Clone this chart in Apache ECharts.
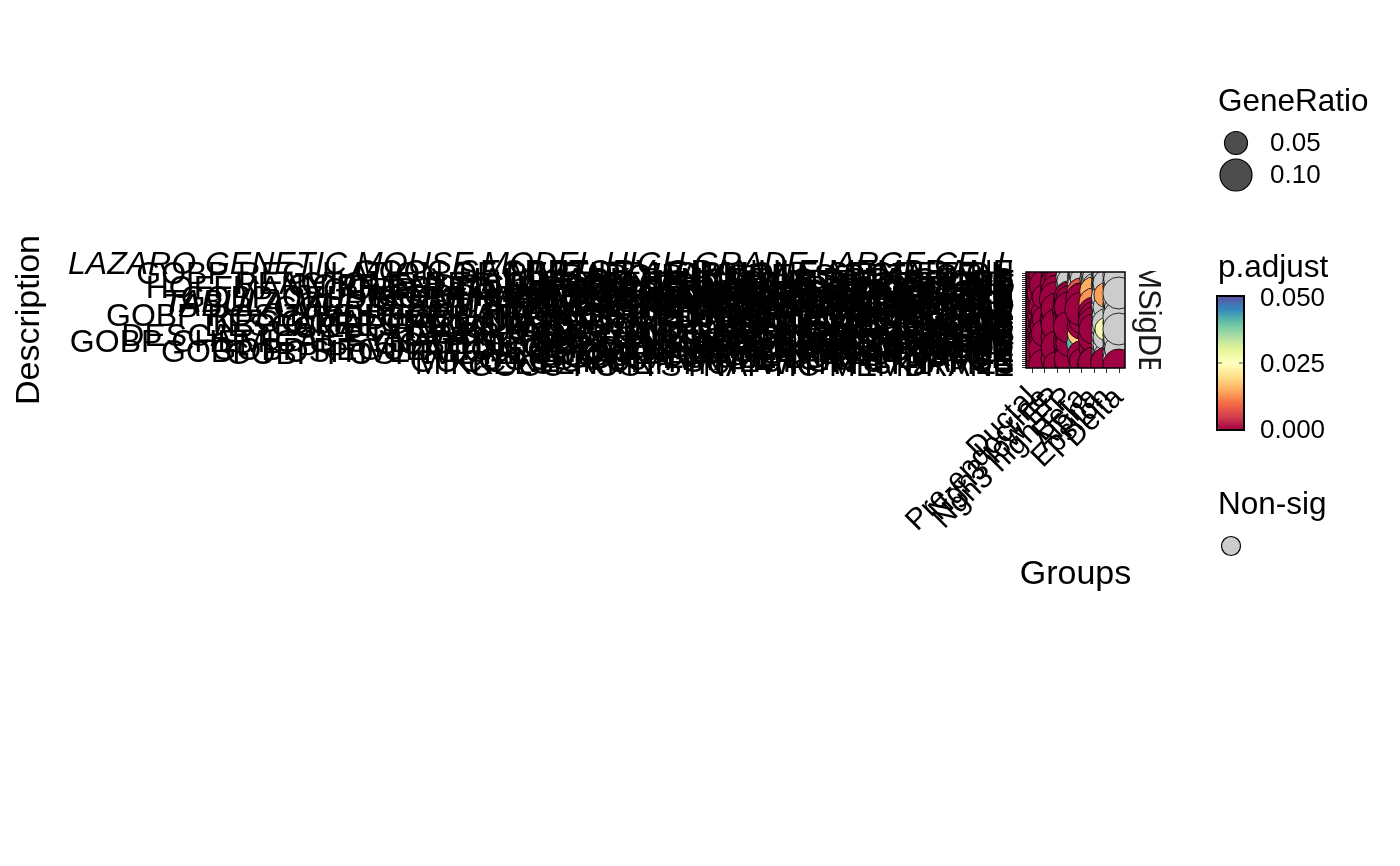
<!DOCTYPE html>
<html><head><meta charset="utf-8">
<script src="https://cdn.jsdelivr.net/npm/echarts@6/dist/echarts.min.js"></script>
<style>html,body{margin:0;padding:0;background:#fff}#c{width:1400px;height:866px}</style>
</head><body><div id="c"></div><script>
// ---------------- DATA ----------------
const groups = ['Ductal', 'Pre-endocrine', 'Ngn3 low EP', 'Ngn3 high EP', 'Beta', 'Alpha', 'Epsilon', 'Delta'];

const descriptions = [
  'GOCC SECRETORY GRANULE MEMBRANE',
  'GOBP REGULATION OF PEPTIDE HORMONE SECRETION',
  'MURARO PANCREAS BETA CELL',
  'LAZARO GENETIC MOUSE MODEL HIGH GRADE LARGE CELL NEUROENDOCRINE LUNG CA UP',
  'HALLMARK PANCREAS BETA CELLS',
  'GOBP HORMONE TRANSPORT',
  'REACTOME REGULATION OF INSULIN SECRETION',
  'GOBP ENDOCRINE PANCREAS DEVELOPMENT',
  'HOFFMANN PRE BI TO LARGE PRE BII LYMPHOCYTE UP',
  'GOBP REGULATION OF INSULIN SECRETION',
  'GOCC TRANSPORT VESICLE',
  'MURARO PANCREAS ALPHA CELL',
  'GOBP PEPTIDE HORMONE SECRETION',
  'GOCC NEURONAL DENSE CORE VESICLE',
  'GOBP AXONOGENESIS',
  'GOMF HORMONE ACTIVITY',
  'BENPORATH ES WITH H3K27ME3',
  'GOBP SYNAPSE ORGANIZATION',
  'GOBP REGULATION OF MEMBRANE POTENTIAL',
  'MURARO PANCREAS DELTA CELL',
  'GOBP CELL MORPHOGENESIS INVOLVED IN NEURON DIFFERENTIATION',
  'GOCC SYNAPTIC MEMBRANE',
  'TABULA MURIS SENIS PANCREAS PANCREATIC B CELL AGEING',
  'GOBP NEURON PROJECTION GUIDANCE',
  'TABULA MURIS SENIS PANCREAS PANCREATIC A CELL AGEING',
  'KEGG MATURITY ONSET DIABETES OF THE YOUNG',
  'GOBP CALCIUM ION REGULATED EXOCYTOSIS',
  'DESCARTES FETAL INTESTINE CHROMAFFIN CELLS',
  'GOBP REGULATION OF SYNAPTIC PLASTICITY',
  'GOBP POSITIVE REGULATION OF CELLULAR COMPONENT BIOGENESIS',
  'GOBP GLUCOSE HOMEOSTASIS',
  'GOBP CARBOHYDRATE HOMEOSTASIS',
  'DESCARTES FETAL PANCREAS ISLET ENDOCRINE CELLS',
  'REACTOME NEURONAL SYSTEM',
  'GOCC DISTAL AXON',
  'GOBP CHEMICAL SYNAPTIC TRANSMISSION POSTSYNAPTIC',
  'GOBP NEUROTRANSMITTER SECRETION',
  'GOCC PRESYNAPSE',
  'GOBP DENDRITE DEVELOPMENT',
  'GOBP REGULATION OF CATION CHANNEL ACTIVITY',
  'GOBP POSITIVE REGULATION OF SECRETION BY CELL',
  'GOBP POSITIVE REGULATION OF ION TRANSPORT',
  'GOCC ASYMMETRIC SYNAPSE',
  'GOBP VESICLE LOCALIZATION',
  'GOCC GLUTAMATERGIC SYNAPSE',
  'GOCC NEURON TO NEURON SYNAPSE',
  'MIKKELSEN MEF HCP WITH H3K27ME3',
  'GOCC POSTSYNAPTIC MEMBRANE'
];

const ratio_Ductal = [
  0.11,0.08,0.09,0.07,0.06,0.10,0.08,0.09,
  0.07,0.12,0.08,0.06,0.09,0.07,0.10,0.08,
  0.11,0.06,0.09,0.07,0.08,0.10,0.06,0.09,
  0.12,0.07,0.08,0.06,0.10,0.09,0.07,0.08,
  0.11,0.06,0.09,0.07,0.08,0.10,0.06,0.09,
  0.05,0.06,0.04,0.05,0.06,0.04,0.09,0.05];
const padj_Ductal = [
  1e-6,2e-5,1e-4,3e-6,0.012,1e-5,2e-4,0.018,
  1e-6,4e-5,1e-4,2e-6,3e-5,1e-4,5e-6,2e-5,
  1e-6,3e-4,1e-5,2e-6,4e-5,1e-4,3e-6,1e-5,
  2e-6,1e-4,3e-5,1e-6,2e-5,1e-4,4e-6,1e-5,
  2e-6,3e-4,1e-5,2e-6,1e-4,3e-5,1e-6,2e-5,
  0.32,0.45,0.28,0.61,0.38,0.52,0.002,0.41];

const ratio_PreEndocrine = [
  0.10,0.09,0.07,0.08,0.11,0.06,0.09,0.08,
  0.10,0.07,0.12,0.08,0.06,0.09,0.11,0.07,
  0.08,0.10,0.06,0.09,0.07,0.11,0.08,0.06,
  0.10,0.07,0.09,0.08,0.06,0.11,0.07,0.09,
  0.08,0.10,0.06,0.09,0.07,0.08,0.10,0.06,
  0.08,0.05,0.09,0.06,0.05,0.07,0.10,0.06];
const padj_PreEndocrine = [
  2e-6,1e-5,1e-4,0.008,3e-6,2e-5,1e-6,1e-4,
  4e-5,2e-6,1e-5,3e-4,1e-6,2e-5,1e-4,3e-6,
  1e-5,2e-6,4e-5,1e-4,2e-6,1e-5,3e-5,1e-6,
  2e-4,0.046,1e-5,2e-6,1e-4,3e-5,1e-6,2e-5,
  1e-4,3e-6,1e-5,2e-6,4e-5,1e-4,2e-6,1e-5,
  3e-4,0.27,1e-5,0.44,0.36,2e-4,1e-6,0.58];

const ratio_Ngn3Low = [
  0.09,0.07,0.10,0.08,0.06,0.09,0.11,0.07,
  0.08,0.10,0.06,0.09,0.07,0.12,0.08,0.05,
  0.09,0.07,0.10,0.06,0.08,0.09,0.07,0.11,
  0.05,0.08,0.10,0.06,0.09,0.07,0.05,0.08,
  0.10,0.06,0.09,0.05,0.07,0.10,0.06,0.08,
  0.05,0.09,0.06,0.10,0.05,0.08,0.07,0.06];
const padj_Ngn3Low = [
  1e-5,3e-6,1e-4,2e-5,1e-6,4e-4,2e-6,1e-5,
  3e-5,1e-6,2e-4,1e-5,3e-6,1e-6,2e-5,0.31,
  1e-5,2e-4,1e-6,0.47,3e-5,1e-5,2e-6,1e-4,
  0.39,2e-5,1e-6,3e-4,1e-5,2e-6,0.55,1e-5,
  2e-6,1e-4,3e-5,0.29,1e-5,1e-6,0.62,2e-5,
  0.35,1e-5,0.48,2e-6,0.71,3e-5,1e-6,0.43];

const ratio_Ngn3High = [
  0.06,0.05,0.07,0.04,0.06,0.05,0.07,0.06,
  0.05,0.04,0.06,0.08,0.09,0.07,0.10,0.08,
  0.06,0.09,0.07,0.11,0.08,0.06,0.10,0.07,
  0.09,0.05,0.08,0.10,0.06,0.09,0.07,0.05,
  0.08,0.06,0.10,0.07,0.05,0.09,0.06,0.08,
  0.05,0.07,0.06,0.09,0.05,0.07,0.08,0.06];
const padj_Ngn3High = [
  0.42,0.65,0.38,0.71,0.29,0.55,0.48,0.33,
  0.61,0.74,0.36,0.014,1e-5,2e-6,1e-4,3e-5,
  0.27,1e-6,2e-5,1e-4,3e-6,0.44,1e-5,2e-6,
  1e-4,0.39,3e-5,1e-6,0.52,2e-5,1e-4,0.68,
  3e-6,0.35,1e-5,2e-6,0.57,1e-4,0.46,2e-5,
  0.31,1e-5,0.63,3e-6,0.49,1e-4,2e-5,0.37];

const ratio_Beta = [
  0.07,0.06,0.08,0.05,0.07,0.06,0.08,0.05,
  0.06,0.07,0.09,0.06,0.08,0.10,0.07,0.09,
  0.06,0.08,0.11,0.07,0.09,0.06,0.05,0.07,
  0.06,0.05,0.08,0.06,0.07,0.05,0.08,0.06,
  0.07,0.05,0.06,0.09,0.07,0.06,0.05,0.07,
  0.06,0.08,0.05,0.07,0.06,0.05,0.04,0.06];
const padj_Beta = [
  0.58,0.41,0.67,0.33,0.52,0.74,0.45,0.62,
  0.38,0.55,0.007,0.47,1e-5,2e-6,1e-4,3e-6,
  1e-5,2e-4,1e-6,3e-5,1e-4,0.36,0.59,0.43,
  2e-5,0.66,1e-4,0.31,0.49,0.72,0.018,0.54,
  0.37,0.61,0.45,0.041,0.28,0.53,0.69,0.34,
  0.47,1e-4,0.62,0.39,2e-5,0.58,0.031,0.44];

const ratio_Alpha = [
  0.06,0.07,0.05,0.08,0.06,0.07,0.05,0.06,
  0.07,0.08,0.05,0.06,0.07,0.05,0.06,0.09,
  0.05,0.07,0.06,0.08,0.10,0.07,0.09,0.06,
  0.08,0.10,0.07,0.05,0.09,0.06,0.08,0.07,
  0.10,0.06,0.08,0.05,0.07,0.09,0.06,0.05,
  0.07,0.06,0.08,0.05,0.09,0.10,0.08,0.11];
const padj_Alpha = [
  0.49,0.63,0.36,0.71,0.44,0.57,0.32,0.68,
  0.51,0.015,0.43,0.66,0.39,0.74,0.55,0.013,
  0.47,0.62,0.35,0.58,1e-4,0.41,2e-5,0.69,
  3e-4,1e-5,0.46,0.72,2e-6,0.38,0.022,0.53,
  1e-5,0.64,0.37,0.59,0.45,1e-4,0.51,0.67,
  0.42,0.56,0.34,0.61,2e-5,1e-6,3e-4,1e-5];

const ratio_Epsilon = [
  0.08,0.07,0.09,0.06,0.08,0.07,0.09,0.08,
  0.06,0.08,0.07,0.06,0.09,0.07,0.08,0.06,
  0.09,0.07,0.08,0.06,0.09,0.08,0.07,0.09,
  0.06,0.08,0.07,0.09,0.05,0.08,0.06,0.09,
  0.07,0.08,0.06,0.09,0.07,0.08,0.06,0.07,
  0.09,0.06,0.08,0.07,0.06,0.10,0.08,0.07];
const padj_Epsilon = [
  0.54,0.38,0.67,0.45,0.61,0.33,0.72,0.49,
  0.58,0.41,0.64,0.014,0.37,0.55,0.69,0.43,
  0.52,0.36,0.63,0.47,0.71,0.39,0.58,0.44,
  0.66,0.35,0.53,0.48,0.027,0.62,0.41,0.57,
  0.34,0.68,0.46,0.59,0.38,0.73,0.51,0.42,
  0.65,0.37,0.56,0.49,0.61,1e-5,0.44,0.53];

const ratio_Delta = [
  0.09,0.10,0.08,0.09,0.10,0.08,0.09,0.10,
  0.08,0.09,0.10,0.08,0.09,0.10,0.08,0.09,
  0.10,0.08,0.09,0.10,0.08,0.09,0.10,0.08,
  0.09,0.10,0.08,0.09,0.10,0.08,0.09,0.10,
  0.08,0.09,0.10,0.08,0.09,0.10,0.08,0.09,
  0.10,0.08,0.09,0.10,0.08,0.09,0.10,0.09];
const padj_Delta = [
  0.61,0.45,0.72,0.38,0.56,0.67,0.43,0.59,
  0.48,0.71,0.36,0.62,0.54,0.41,0.69,0.47,
  0.58,0.39,0.66,0.51,0.44,0.73,0.37,0.63,
  0.49,0.57,0.42,0.68,0.35,0.61,0.46,0.55,
  0.70,0.40,0.64,0.52,0.45,0.59,0.38,0.66,
  0.53,0.47,0.62,0.39,0.71,0.44,1e-4,0.57];

const sizeBreaks = [0.05, 0.10];
const padjTicks = ['0.000', '0.025', '0.050'];
const padjCutoff = 0.05;

// ---------------- STYLE / BUILD ----------------
const FONT = '"Liberation Sans", Arial, Helvetica, sans-serif';
const italicTerms = new Set([
  'LAZARO GENETIC MOUSE MODEL HIGH GRADE LARGE CELL NEUROENDOCRINE LUNG CA UP',
  'TABULA MURIS SENIS PANCREAS PANCREATIC B CELL AGEING',
  'TABULA MURIS SENIS PANCREAS PANCREATIC A CELL AGEING'
]);
const spectral = ['#9E0142','#D53E4F','#F46D43','#FDAE61','#FEE08B','#FFFFBF','#E6F598','#ABDDA4','#66C2A5','#3288BD','#5E4FA2'];
const NONSIG = '#CCCCCC';
const sizeOf = r => Math.sqrt(34 + 9900 * r);

const ratios = [ratio_Ductal, ratio_PreEndocrine, ratio_Ngn3Low, ratio_Ngn3High, ratio_Beta, ratio_Alpha, ratio_Epsilon, ratio_Delta];
const padjs  = [padj_Ductal, padj_PreEndocrine, padj_Ngn3Low, padj_Ngn3High, padj_Beta, padj_Alpha, padj_Epsilon, padj_Delta];
// long table, drawn group by group; within a group the most significant terms are drawn last (on top)
const points = [];
groups.forEach((g, gi) => {
  const rows = descriptions.map((d, ri) => [gi, ri, ratios[gi][ri], padjs[gi][ri]]);
  rows.sort((a, b) => b[3] - a[3]);
  rows.forEach(r => points.push(r));
});

function wrap(s, w) {
  const words = s.split(' '); const lines = []; let cur = '';
  for (const wd of words) {
    if (cur && (cur + ' ' + wd).length > w) { lines.push(cur); cur = wd; }
    else cur = cur ? cur + ' ' + wd : wd;
  }
  if (cur) lines.push(cur);
  return lines;
}

const chart = echarts.init(document.getElementById('c'), null, {renderer: 'canvas'});
const txt = (text, x, y, size) => ({
  type: 'text', x: x, y: y, z: 100,
  style: {text: text, font: size + 'px ' + FONT, fill: '#000', align: 'left', verticalAlign: 'middle',
          textAlign: 'left', textVerticalAlign: 'middle'}
});

const option = {
  animation: false,
  backgroundColor: '#fff',
  grid: {left: 1026, right: 275, top: 272, bottom: 498, show: true, z: 10,
         borderColor: '#000', borderWidth: 1.5, backgroundColor: 'rgba(0,0,0,0)'},
  xAxis: {
    type: 'category', data: groups,
    axisLine: {show: false},
    axisTick: {show: true, length: 5, interval: 0, alignWithLabel: true, lineStyle: {color: '#333', width: 1}},
    axisLabel: {interval: 0, rotate: 45, fontSize: 30, color: '#000', fontFamily: FONT, margin: 25},
    splitLine: {show: false},
    name: 'Groups', nameLocation: 'middle', nameGap: 190,
    nameTextStyle: {fontSize: 34, color: '#000', fontFamily: FONT}
  },
  yAxis: {
    type: 'category', data: descriptions, inverse: true,
    axisLine: {show: false},
    axisTick: {show: true, length: 4, interval: 0, alignWithLabel: true, lineStyle: {color: '#333', width: 1}},
    axisLabel: {
      interval: 0, margin: 12, color: '#000', fontSize: 32, fontFamily: FONT,
      formatter: v => {
        const k = italicTerms.has(v) ? 'it' : 'n';
        return wrap(v, 50).map(l => '{' + k + '|' + l + '}').join('\n');
      },
      rich: {
        it: {fontStyle: 'italic', fontSize: 32, lineHeight: 28, fontFamily: FONT, color: '#000'},
        n: {fontSize: 32, lineHeight: 28, fontFamily: FONT, color: '#000'}
      }
    },
    splitLine: {show: false},
    name: 'Description', nameLocation: 'middle', nameRotate: 90, nameGap: 979,
    nameTextStyle: {fontSize: 34, color: '#000', fontFamily: FONT}
  },
  visualMap: {
    type: 'continuous', min: 0, max: 0.05, dimension: 3, seriesIndex: 0,
    calculable: false, realtime: false, hoverLink: false,
    left: 1218, top: 296, itemWidth: 26, itemHeight: 134, padding: 0,
    inRange: {color: spectral}
  },
  series: [{
    type: 'custom', coordinateSystem: 'cartesian2d', clip: true,
    encode: {x: 0, y: 1}, data: points,
    renderItem: (params, api) => {
      const p = api.coord([api.value(0), api.value(1)]);
      const r = sizeOf(api.value(2)) / 2;
      const fill = api.value(3) > padjCutoff ? NONSIG : api.visual('color');
      return {type: 'circle', shape: {cx: p[0], cy: p[1], r: r},
              style: {fill: fill, stroke: '#000', lineWidth: 0.8}};
    }
  }],
  graphic: [
    // facet strip label
    {type: 'text', x: 1148, y: 320, rotation: -Math.PI / 2, z: 50,
     style: {text: 'MSigDB', font: '31px ' + FONT, fill: '#1a1a1a', align: 'center', verticalAlign: 'middle',
             textAlign: 'center', textVerticalAlign: 'middle'}},
    {type: 'rect', z: 60, shape: {x: 1128, y: 240, width: 45, height: 31}, style: {fill: '#fff'}},
    {type: 'rect', z: 60, shape: {x: 1137, y: 369, width: 36, height: 16}, style: {fill: '#fff'}},
    // GeneRatio legend
    txt('GeneRatio', 1218, 102, 31.5),
    {type: 'circle', z: 100, shape: {cx: 1236, cy: 143, r: sizeOf(sizeBreaks[0]) / 2}, style: {fill: '#4D4D4D', stroke: '#000', lineWidth: 1.2}},
    {type: 'circle', z: 100, shape: {cx: 1236, cy: 175, r: sizeOf(sizeBreaks[1]) / 2}, style: {fill: '#4D4D4D', stroke: '#000', lineWidth: 1.2}},
    txt(sizeBreaks[0].toFixed(2), 1270, 144, 26),
    txt(sizeBreaks[1].toFixed(2), 1270, 176, 26),
    // p.adjust legend
    txt('p.adjust', 1218, 268, 31.5),
    {type: 'rect', z: 100, shape: {x: 1217, y: 296, width: 27, height: 134}, style: {fill: 'none', stroke: '#000', lineWidth: 2}},
    {type: 'line', z: 100, shape: {x1: 1218, y1: 363, x2: 1222, y2: 363}, style: {stroke: '#555', lineWidth: 1}},
    {type: 'line', z: 100, shape: {x1: 1239, y1: 363, x2: 1243, y2: 363}, style: {stroke: '#555', lineWidth: 1}},
    txt(padjTicks[2], 1260, 299, 26),
    txt(padjTicks[1], 1260, 365, 26),
    txt(padjTicks[0], 1260, 431, 26),
    // Non-sig legend
    txt('Non-sig', 1218, 505, 31.5),
    {type: 'circle', z: 100, shape: {cx: 1231, cy: 546, r: 9.5}, style: {fill: NONSIG, stroke: '#000', lineWidth: 1.2}}
  ]
};
chart.setOption(option);
</script></body></html>
